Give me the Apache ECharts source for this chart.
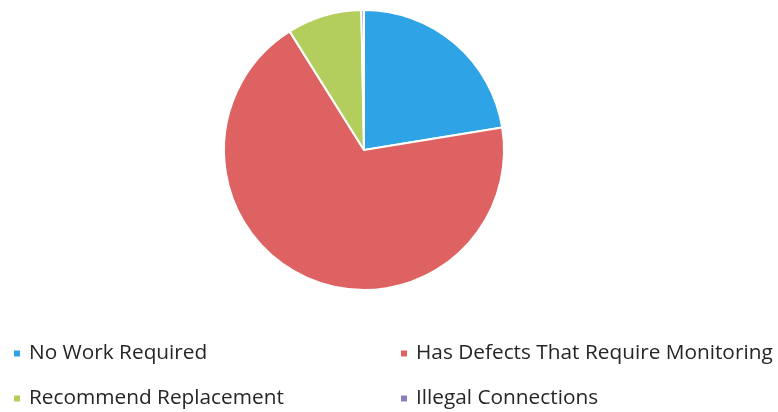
<!DOCTYPE html>
<html>
<head>
<meta charset="utf-8">
<script src="https://cdn.jsdelivr.net/npm/echarts@6/dist/echarts.min.js"></script>
<style>
	html, body { margin: 0; padding: 0; background: #fff; }
	#chart { width: 778px; height: 412px; }
</style>
</head>
<body>
<div id="chart"></div>
<script>
	// values (percent of total)
	const categories = ['No Work Required', 'Has Defects That Require Monitoring', 'Recommend Replacement', 'Illegal Connections']
	const values = [22.4, 68.6, 8.6, 0.3]
	const colors = ['#2EA3E6', '#DF6262', '#B4CE5E', '#8E7CC3']

	const chart = echarts.init(document.getElementById('chart'))

	const legendPos = [
		{ left: 7, top: 338 },
		{ left: 394, top: 338 },
		{ left: 7, top: 383 },
		{ left: 394, top: 383 }
	]

	chart.setOption({
		animation: false,
		color: colors,
		legend: categories.map((name, i) => ({
			data: [name],
			left: legendPos[i].left,
			top: legendPos[i].top,
			icon: 'rect',
			itemWidth: 8,
			itemHeight: 8,
			itemGap: 0,
			textStyle: {
				fontFamily: 'Open Sans',
				fontSize: 20.8,
				color: '#262626',
				padding: [0, 0, 0, 3]
			}
		})),
		series: [{
			type: 'pie',
			center: [364, 150],
			radius: 140,
			startAngle: 90,
			clockwise: true,
			label: { show: false },
			labelLine: { show: false },
			itemStyle: {
				borderColor: '#fff',
				borderWidth: 2
			},
			data: categories.map((name, i) => ({ name: name, value: values[i] }))
		}]
	})
</script>
</body>
</html>
